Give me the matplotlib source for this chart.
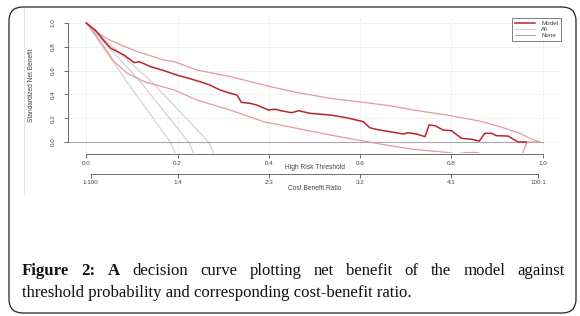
import matplotlib
matplotlib.use("Agg")
import matplotlib.pyplot as plt
from matplotlib.lines import Line2D
from matplotlib.patches import FancyBboxPatch
from matplotlib.transforms import IdentityTransform

# ---- data ----
# standardized net benefit of the model
model_x = [0, 0.02, 0.039, 0.054, 0.083, 0.105, 0.116, 0.141, 0.17, 0.198, 0.225, 0.249, 0.27,
           0.293, 0.315, 0.33, 0.34, 0.359, 0.373, 0.399, 0.414, 0.43, 0.45, 0.465, 0.49,
           0.534, 0.57, 0.607, 0.621, 0.643, 0.665, 0.694, 0.705, 0.724, 0.742, 0.751,
           0.764, 0.782, 0.80, 0.822, 0.844, 0.861, 0.873, 0.888, 0.898, 0.924, 0.946, 0.964]
model_y = [1.0, 0.94, 0.85, 0.787, 0.73, 0.667, 0.675, 0.633, 0.60, 0.563, 0.535, 0.507, 0.48,
           0.437, 0.41, 0.395, 0.333, 0.325, 0.311, 0.269, 0.275, 0.26, 0.246, 0.263, 0.241,
           0.227, 0.204, 0.171, 0.12, 0.10, 0.087, 0.067, 0.078, 0.067, 0.045, 0.143,
           0.137, 0.10, 0.095, 0.031, 0.023, 0.008, 0.073, 0.073, 0.053, 0.05, 0.0, 0.0]

# upper and lower confidence bounds
upper_x = [0, 0.02, 0.05, 0.076, 0.112, 0.169, 0.193, 0.242, 0.315, 0.403, 0.461, 0.534,
           0.607, 0.665, 0.716, 0.789, 0.862, 0.906, 0.95, 0.972, 0.993]
upper_y = [1.0, 0.93, 0.86, 0.815, 0.76, 0.69, 0.675, 0.605, 0.55, 0.465, 0.417, 0.367,
           0.333, 0.305, 0.269, 0.227, 0.176, 0.129, 0.073, 0.031, 0.0]
lower_x = [0, 0.01, 0.039, 0.061, 0.09, 0.127, 0.193, 0.242, 0.315, 0.388, 0.461, 0.534,
           0.607, 0.665, 0.716, 0.789, 0.81, 0.834, 0.856, 0.87, 0.954, 0.966, 0.993]
lower_y = [1.0, 0.955, 0.80, 0.675, 0.577, 0.507, 0.437, 0.353, 0.269, 0.171, 0.115, 0.059,
           0.008, -0.031, -0.061, -0.087, -0.1, -0.088, -0.088, -0.11, -0.11, 0.0, 0.0]

# "treat all" curves (model prevalence and its bounds)
all_x = [[0, 0.09, 0.184, 0.196],
         [0, 0.12, 0.224, 0.236],
         [0, 0.145, 0.268, 0.28]]
all_y = [[1.0, 0.5, 0.0, -0.1],
         [1.0, 0.5, 0.0, -0.1],
         [1.0, 0.5, 0.0, -0.1]]

# "treat none"
none_x = [-0.04, 1.0]
none_y = [0.0, 0.0]

thr_ticks = [0.0, 0.2, 0.4, 0.6, 0.8, 1.0]
thr_labels = ["0.0", "0.2", "0.4", "0.6", "0.8", "1.0"]
cbr_ticks = [0.01, 0.2, 0.4, 0.6, 0.8, 0.99]
cbr_labels = ["1:100", "1:4", "2:3", "3:2", "4:1", "100:1"]
y_ticks = [0.0, 0.2, 0.4, 0.6, 0.8, 1.0]
y_labels = ["0.0", "0.2", "0.4", "0.6", "0.8", "1.0"]

caption_words = ["Figure", "2:", "A", "decision", "curve", "plotting", "net", "benefit",
                 "of", "the", "model", "against"]
n_bold = 3
caption_line2 = "threshold probability and corresponding cost-benefit ratio."

# ---- colours ----
c_model = "#b8242c"
c_ci = "#e49a9c"
c_all = "#d2d2d2"
c_none = "#a8a8a8"
c_axis = "#555555"
c_text = "#444444"

W, H = 580, 316
plt.rcParams["font.family"] = ["Liberation Sans", "DejaVu Sans"]
fig = plt.figure(figsize=(W / 100, H / 100), dpi=100)
fig.patch.set_facecolor("white")

def px(x0, y0, w, h):
    # pixel box (top-left origin) -> figure fraction
    return [x0 / W, (H - y0 - h) / H, w / W, h / H]

ax = fig.add_axes(px(68, 18, 493, 135))
ax.set_xlim(-0.04, 1.04)
ax.set_ylim((142 - 153) / 119, (142 - 18) / 119)

ax.grid(True, color="#eeeeee", lw=0.6)
ax.set_axisbelow(True)

for xs, ys in zip(all_x, all_y):
    ax.plot(xs, ys, color=c_all, lw=0.9)
ax.plot(none_x, none_y, color=c_none, lw=0.8)
ax.plot(upper_x, upper_y, color=c_ci, lw=0.9)
ax.plot(lower_x, lower_y, color=c_ci, lw=0.9)
ax.plot(model_x, model_y, color=c_model, lw=1.1)

for s in ["top", "right"]:
    ax.spines[s].set_visible(False)
for s in ["left", "bottom"]:
    ax.spines[s].set_color(c_axis)
    ax.spines[s].set_linewidth(0.6)
    ax.spines[s].set_bounds(0, 1)
ax.spines["bottom"].set_position(("outward", 1))

ax.set_xticks(thr_ticks)
ax.set_xticklabels(thr_labels)
ax.set_yticks(y_ticks)
ax.set_yticklabels(y_labels, rotation=90, va="center")
ax.tick_params(axis="both", colors=c_axis, labelcolor=c_text, length=3, width=0.6,
               labelsize=4.5)
ax.tick_params(axis="x", pad=1.5)
ax.tick_params(axis="y", pad=6)

ax.set_xlabel("High Risk Threshold", fontsize=4.8, color=c_text)
ax.xaxis.set_label_coords(0.5, (153 - 164) / 135)
ax.set_ylabel("Standardized Net Benefit", fontsize=4.8, color=c_text)
ax.yaxis.set_label_coords((35 - 68) / 493, 0.5)

handles = [Line2D([], [], color=c_model, lw=1.1),
           Line2D([], [], color=c_all, lw=0.9),
           Line2D([], [], color=c_none, lw=0.8)]
leg = ax.legend(handles, ["Model", "All", "None"], loc="upper right",
                bbox_to_anchor=(1.0, 1.0), borderaxespad=0, fontsize=4.5,
                frameon=True, fancybox=False, edgecolor="#444444",
                handlelength=3.2, handletextpad=1.0, labelspacing=0.12,
                borderpad=0.45)
leg.get_frame().set_linewidth(0.6)
for t in leg.get_texts():
    t.set_color(c_text)

# second axis: cost benefit ratio
ax2 = fig.add_axes(px(68, 174, 493, 0.01))
ax2.set_xlim(-0.04, 1.04)
ax2.patch.set_visible(False)
for s in ["top", "right", "left"]:
    ax2.spines[s].set_visible(False)
ax2.spines["bottom"].set_color(c_axis)
ax2.spines["bottom"].set_linewidth(0.6)
ax2.spines["bottom"].set_bounds(cbr_ticks[0], cbr_ticks[-1])
ax2.set_yticks([])
ax2.set_xticks(cbr_ticks)
ax2.set_xticklabels(cbr_labels)
ax2.tick_params(axis="x", colors=c_axis, labelcolor=c_text, length=3, width=0.6,
                labelsize=4.5, pad=1.5)
ax2.set_xlabel("Cost Benefit Ratio", fontsize=4.8, color=c_text)
ax2.xaxis.set_label_coords(0.5, -11.0 / 0.01)

# faint edge of the embedded chart image
fig.add_artist(Line2D([24, 24], [H - 8, H - 195], transform=IdentityTransform(),
                      color="#e2e2e2", lw=0.8))

# rounded outer frame
fig.add_artist(FancyBboxPatch((9, 3), 567, 306, boxstyle="round,pad=0,rounding_size=14",
                              transform=IdentityTransform(), fill=False,
                              ec="#222222", lw=0.9))

# caption: font sized from the second line, first line justified across the box
renderer = fig.canvas.get_renderer()
serif = "Liberation Serif"
probe = fig.text(0, 0, caption_line2, fontsize=10, family=serif)
w10 = probe.get_window_extent(renderer).width
probe.remove()
fs = 10 * 392 / w10

left_px, right_px = 22, 565
words = []
for i, wd in enumerate(caption_words):
    t = fig.text(0, (H - 275) / H, wd, fontsize=fs, family=serif, color="#111111",
                 fontweight="bold" if i < n_bold else "normal", va="baseline")
    words.append((t, t.get_window_extent(renderer).width))
gap = (right_px - left_px - sum(w for _, w in words)) / (len(words) - 1)
xpos = left_px
for t, w in words:
    t.set_x(xpos / W)
    xpos += w + gap

fig.text(left_px / W, (H - 297) / H, caption_line2, fontsize=fs, family=serif,
         color="#111111", va="baseline")

fig.savefig("out.png", dpi=100)
